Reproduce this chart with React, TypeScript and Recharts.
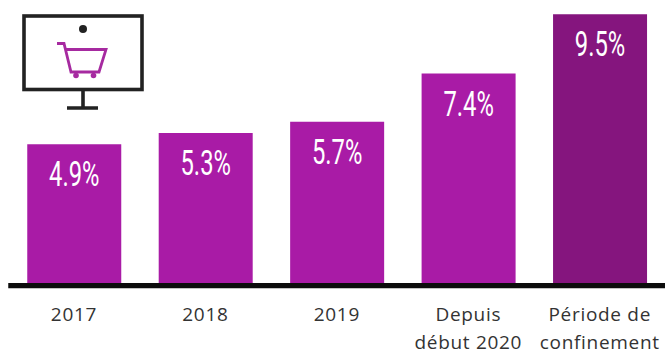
import { BarChart, Bar, Cell, XAxis, YAxis, LabelList } from 'recharts';

const categories = ['2017', '2018', '2019', 'Depuis|début 2020', 'Période de|confinement'];
const shares = [4.9, 5.3, 5.7, 7.4, 9.5];
const barColors = ['#a91ba6', '#a91ba6', '#a91ba6', '#a91ba6', '#85157e'];

const chartData = categories.map((name, i) => ({ name, share: shares[i] }));

// labels are split on "|" so the long ones wrap onto two lines
function CategoryTick({ x, y, payload }: any) {
  const lines = String(payload.value).split('|');
  return (
    <text x={x} textAnchor="middle" fontFamily="'Open Sans'" fontSize={19} letterSpacing={0.7} fill="#333">
      {lines.map((line, i) => (
        <tspan key={line} x={x} y={y + 32 + i * 27.5}>{line}</tspan>
      ))}
    </text>
  );
}

// the percentages use a tall condensed face, so a regular font gets squeezed
function ShareLabel({ x, y, width, value }: any) {
  const cx = x + width / 2;
  const cy = y + 42;
  return (
    <text
      transform={`translate(${cx} ${cy}) scale(0.68 1)`}
      textAnchor="middle"
      fontFamily="Roboto"
      fontWeight={400}
      fontSize={35}
      fill="#fff"
    >
      {`${value.toFixed(1)}%`}
    </text>
  );
}

function ShopIcon() {
  return (
    <svg width={160} height={120} style={{ position: 'absolute', left: 0, top: 0 }}>
      <rect x={24} y={16} width={118} height={73.5} fill="#fff" stroke="#222" strokeWidth={3.6} />
      <circle cx={83} cy={29} r={4} fill="#222" />
      <path d="M83 90V108M67 108H98" fill="none" stroke="#222" strokeWidth={3.6} />
      <path
        d="M57 43.5H64L71 72H99L106 49.5H66"
        fill="none"
        stroke="#a62aa0"
        strokeWidth={2.8}
      />
      <circle cx={76} cy={75.5} r={2.8} fill="#a62aa0" />
      <circle cx={93.5} cy={75.5} r={2.8} fill="#a62aa0" />
    </svg>
  );
}

export default function App() {
  return (
    <div style={{ position: 'absolute', left: 0, top: 0, width: 665, height: 352, overflow: 'hidden', background: '#fff' }}>
      <BarChart
        width={666}
        height={352}
        data={chartData}
        margin={{ top: 0, right: 0.5, bottom: 0, left: 8.25 }}
        barSize={94}
      >
        <XAxis
          dataKey="name"
          interval={0}
          height={69}
          tickLine={false}
          tickMargin={0}
          axisLine={{ stroke: '#0c0c0c', strokeWidth: 5.4, transform: 'translate(0 2.6)' }}
          tick={<CategoryTick />}
        />
        <YAxis hide domain={[0, 10]} />
        <Bar dataKey="share" isAnimationActive={false}>
          {chartData.map((entry, i) => (
            <Cell key={entry.name} fill={barColors[i]} />
          ))}
          <LabelList dataKey="share" content={<ShareLabel />} />
        </Bar>
      </BarChart>
      <ShopIcon />
    </div>
  );
}
